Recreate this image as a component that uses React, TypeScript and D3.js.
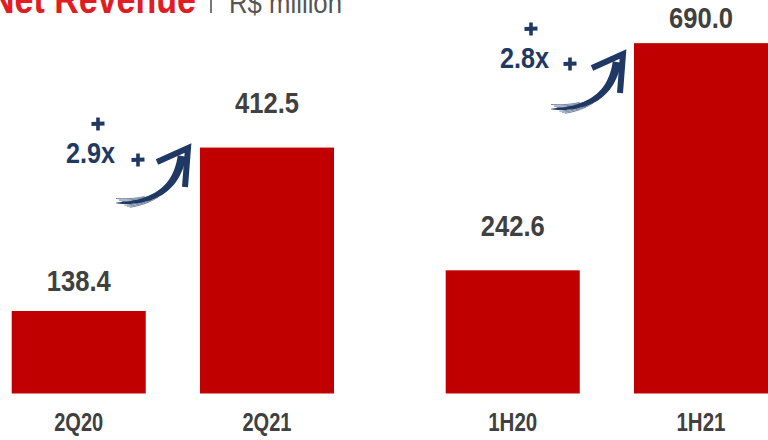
import React from "react";
import * as d3 from "d3";

const quarterCategories = ["2Q20", "2Q21"];
const quarterValues = [138.4, 412.5];
const halfCategories = ["1H20", "1H21"];
const halfValues = [242.6, 690.0];
const growthLabels = ["2.9x", "2.8x"];
const titleMain = "Net Revenue";
const titleUnit = "R$ million";

const W = 768;
const H = 440;
const BASE = 393.5;
const BAR = "#c00000";
const NAVY = "#1f3864";
const GRAY = "#404040";
const FONT = "'Liberation Sans', Arial, sans-serif";
const labelGaps = [[20, 35], [34.7, 15]];

function quad(p0: number[], c: number[], p2: number[], t: number) {
  return [
    (1 - t) * (1 - t) * p0[0] + 2 * (1 - t) * t * c[0] + t * t * p2[0],
    (1 - t) * (1 - t) * p0[1] + 2 * (1 - t) * t * c[1] + t * t * p2[1],
  ];
}

function brushArrow(tipX: number, tipY: number) {
  const p0 = [-72, 55], c = [-14, 56], p2 = [-6, 8];
  const n = 30;
  const left: [number, number][] = [];
  const right: [number, number][] = [];
  for (let i = 0; i <= n; i++) {
    const t = i / n;
    const [x, y] = quad(p0, c, p2, t);
    const dx = 2 * (1 - t) * (c[0] - p0[0]) + 2 * t * (p2[0] - c[0]);
    const dy = 2 * (1 - t) * (c[1] - p0[1]) + 2 * t * (p2[1] - c[1]);
    const len = Math.hypot(dx, dy);
    const nx = -dy / len, ny = dx / len;
    const w = 0.3 + 4.0 * Math.pow(t, 0.6);
    left.push([tipX + x + nx * w, tipY + y + ny * w]);
    right.push([tipX + x - nx * w, tipY + y - ny * w]);
  }
  const body = d3.line()([...left, ...right.reverse()]) + "Z";
  const streaks: string[] = [];
  const offs = [-4.5, -3, -1.5, 2.5, 4, 5.5];
  offs.forEach((o, k) => {
    const seg: [number, number][] = [];
    const t0 = 0.0 + k * 0.025, t1 = 0.28 + (k % 3) * 0.09;
    for (let i = 0; i <= 10; i++) {
      const t = t0 + (t1 - t0) * (i / 10);
      const [x, y] = quad(p0, c, p2, t);
      seg.push([tipX + x, tipY + y + o * (1 - t)]);
    }
    streaks.push(d3.line()(seg) as string);
  });
  const head = d3.line()([
    [tipX - 31, tipY + 14],
    [tipX, tipY],
    [tipX - 3, tipY + 39],
  ]) as string;
  return { body, streaks, head };
}

function Plus({ x, y }: { x: number; y: number }) {
  return (
    <g stroke={NAVY}>
      <line x1={x - 6.5} y1={y} x2={x + 6.5} y2={y - 0.5} strokeWidth={4} />
      <line x1={x} y1={y - 6.5} x2={x} y2={y + 6.5} strokeWidth={3.6} />
    </g>
  );
}

export default function App() {
  const xLeft = d3.scaleBand<string>().domain(quarterCategories).range([11.7, 334]).paddingInner(0.288);
  const xRight = d3.scaleBand<string>().domain(halfCategories).range([445.7, 768]).paddingInner(0.288);
  const yLeft = d3.scaleLinear().domain([0, 660]).range([BASE, 0]);
  const yRight = d3.scaleLinear().domain([0, 775]).range([BASE, 0]);

  const groups = [
    { cats: quarterCategories, vals: quarterValues, x: xLeft, y: yLeft },
    { cats: halfCategories, vals: halfValues, x: xRight, y: yRight },
  ];

  const arrows = [
    { tip: [188, 148], text: [66, 163], p1: [98, 124], p2: [138, 160] },
    { tip: [623, 54], text: [500, 68], p1: [531, 29], p2: [570, 64] },
  ];

  return (
    <svg width={W} height={H} style={{ position: "absolute", left: 0, top: 0, background: "#fff" }} fontFamily={FONT}>
      <rect width={W} height={H} fill="#fff" />
      <text x={196} y={13} fontSize={40} fontWeight="bold" fill="#e31b23" textAnchor="end" textLength={206} lengthAdjust="spacingAndGlyphs">{titleMain}</text>
      <line x1={211} y1={-4} x2={211} y2={13} stroke="#555" strokeWidth={1.6} />
      <text x={229} y={13} fontSize={30} fill="#555" textLength={113} lengthAdjust="spacingAndGlyphs">{titleUnit}</text>

      {groups.map((g, gi) => (
        <g key={gi}>
          {g.cats.map((cat, i) => {
            const v = g.vals[i];
            const x0 = g.x(cat) as number;
            const bw = g.x.bandwidth();
            const cx = x0 + bw / 2;
            return (
              <g key={cat}>
                <rect x={x0} y={g.y(v)} width={bw} height={BASE - g.y(v)} fill={BAR} />
                <text x={cx - 32} y={g.y(v) - labelGaps[gi][i]} fontSize={30} fontWeight="bold" fill={GRAY} textLength={64} lengthAdjust="spacingAndGlyphs">
                  {v.toFixed(1)}
                </text>
                <text x={cx - 24.5} y={431} fontSize={25.5} fontWeight="bold" fill={GRAY} textLength={49} lengthAdjust="spacingAndGlyphs">
                  {cat}
                </text>
              </g>
            );
          })}
        </g>
      ))}

      {arrows.map((a, i) => {
        const ar = brushArrow(a.tip[0], a.tip[1]);
        return (
          <g key={i}>
            <text x={a.text[0]} y={a.text[1]} fontSize={29} fontWeight="bold" fill={NAVY} textLength={49} lengthAdjust="spacingAndGlyphs">{growthLabels[i]}</text>
            <Plus x={a.p1[0]} y={a.p1[1]} />
            <Plus x={a.p2[0]} y={a.p2[1]} />
            <path d={ar.body} fill={NAVY} />
            {ar.streaks.map((s, k) => (
              <path key={k} d={s} fill="none" stroke={NAVY} strokeWidth={0.9} opacity={0.7} />
            ))}
            <path d={ar.head} fill="none" stroke={NAVY} strokeWidth={6} strokeLinejoin="miter" strokeMiterlimit={10} />
          </g>
        );
      })}
    </svg>
  );
}
